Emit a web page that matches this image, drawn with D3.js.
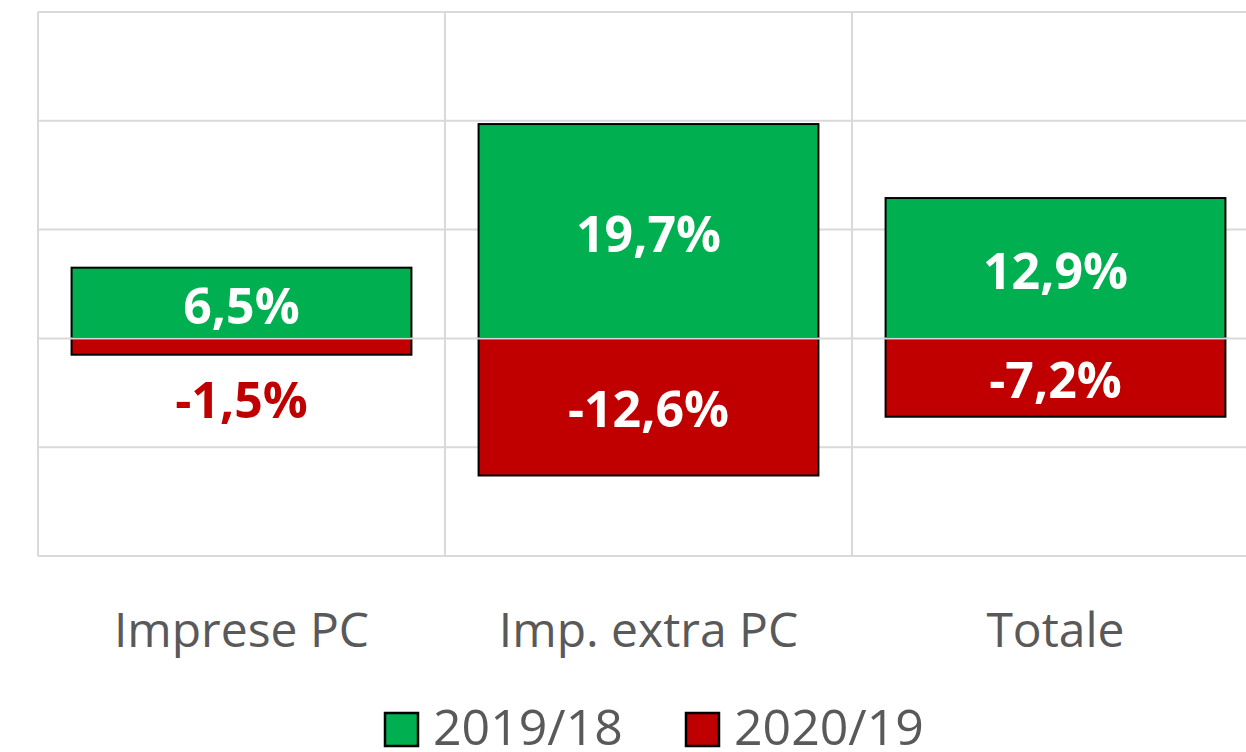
<!DOCTYPE html>
<html><head><meta charset="utf-8">
<script src="https://cdn.jsdelivr.net/npm/d3@7"></script>
<style>html,body{margin:0;padding:0;background:#fff;overflow:hidden}</style>
</head><body>
<svg id="chart" width="1246" height="752"></svg>
<script>
const categories = ["Imprese PC", "Imp. extra PC", "Totale"];
const series1Name = "2019/18";
const series2Name = "2020/19";
const series1 = [6.5, 19.7, 12.9];
const series2 = [-1.5, -12.6, -7.2];
const yTicks = [-20, -10, 0, 10, 20, 30];

const FONT = "'Open Sans', Lato, sans-serif";
const GREEN = "#00B050", RED = "#C00000", GRID = "#d9d9d9", TXT = "#595959";

const svg = d3.select("#chart");
const x = d3.scaleBand().domain(categories).range([38, 1259]).paddingInner(0.165).paddingOuter(0.0825);
const y = d3.scaleLinear().domain([-20, 30]).range([556, 12]);
const half = (x.step() - x.bandwidth()) / 2;

// horizontal gridlines
svg.append("g").selectAll("line").data(yTicks.filter(t => t !== 0)).join("line")
  .attr("x1", 38).attr("x2", 1259).attr("y1", d => y(d)).attr("y2", d => y(d))
  .attr("stroke", GRID).attr("stroke-width", 2);
// vertical gridlines at category boundaries
const bounds = categories.map(c => x(c) - half).concat([x(categories[2]) + x.bandwidth() + half]);
svg.append("g").selectAll("line").data(bounds).join("line")
  .attr("x1", d => d).attr("x2", d => d).attr("y1", y(30)).attr("y2", y(-20))
  .attr("stroke", GRID).attr("stroke-width", 2);

const rows = categories.map((c, i) => ({c, a: series1[i], b: series2[i]}));

// bars
svg.append("g").selectAll("rect").data(rows).join("rect")
  .attr("x", d => x(d.c)).attr("width", x.bandwidth())
  .attr("y", d => y(d.a)).attr("height", d => y(0) - y(d.a))
  .attr("fill", GREEN).attr("stroke", "#000").attr("stroke-width", 2);
svg.append("g").selectAll("rect").data(rows).join("rect")
  .attr("x", d => x(d.c)).attr("width", x.bandwidth())
  .attr("y", y(0)).attr("height", d => y(d.b) - y(0))
  .attr("fill", RED).attr("stroke", "#000").attr("stroke-width", 2);

// zero axis line on top
svg.append("line").attr("x1", 38).attr("x2", 1259).attr("y1", y(0)).attr("y2", y(0))
  .attr("stroke", GRID).attr("stroke-width", 2);

const fmt = v => d3.format(".1f")(v).replace(".", ",").replace("−", "-") + "%";
const small = d => (y(d.b) - y(0)) < 50;

// labels
svg.append("g").selectAll("text").data(rows).join("text")
  .attr("x", d => x(d.c) + x.bandwidth() / 2)
  .attr("y", d => (y(d.a) + y(0)) / 2 + 21)
  .attr("text-anchor", "middle")
  .attr("font-family", FONT).attr("font-weight", "bold").attr("font-size", 50)
  .attr("fill", "#fff").text(d => fmt(d.a));
svg.append("g").selectAll("text").data(rows).join("text")
  .attr("x", d => x(d.c) + x.bandwidth() / 2)
  .attr("y", d => small(d) ? y(d.b) + 63 : (y(d.b) + y(0)) / 2 + 20)
  .attr("text-anchor", "middle")
  .attr("font-family", FONT).attr("font-weight", "bold").attr("font-size", 50)
  .attr("fill", d => small(d) ? RED : "#fff").text(d => fmt(d.b));

// category labels
svg.append("g").selectAll("text").data(categories).join("text")
  .attr("x", d => x(d) + x.bandwidth() / 2).attr("y", 647)
  .attr("text-anchor", "middle").attr("font-family", FONT).attr("font-size", 48)
  .attr("fill", TXT).text(d => d);

// legend
const legend = [{n: series1Name, c: GREEN, x: 385}, {n: series2Name, c: RED, x: 686}];
const lg = svg.append("g").selectAll("g").data(legend).join("g");
lg.append("rect").attr("x", d => d.x).attr("y", 713).attr("width", 33).attr("height", 33)
  .attr("fill", d => d.c).attr("stroke", "#000").attr("stroke-width", 2.5);
lg.append("text").attr("x", d => d.x + 48).attr("y", 745)
  .attr("font-family", FONT).attr("font-size", 50).attr("fill", TXT).text(d => d.n);
</script>
</body></html>
